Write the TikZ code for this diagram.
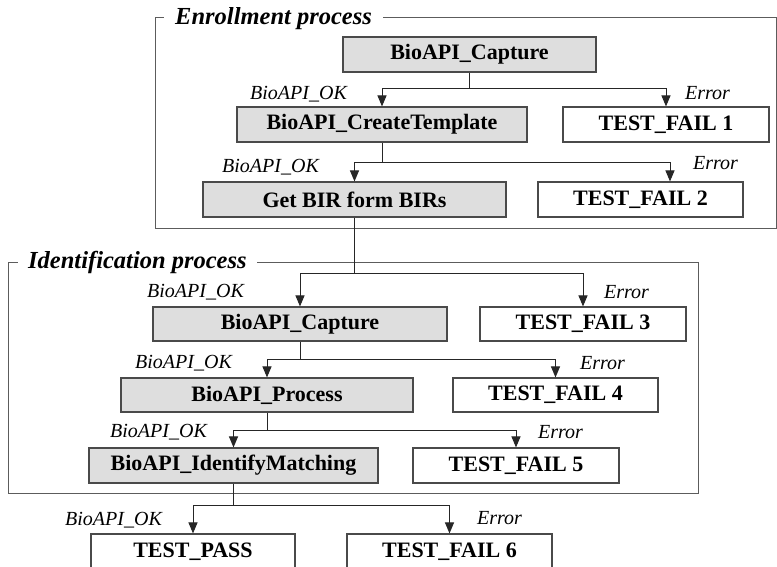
\documentclass[tikz,border=0pt]{standalone}
\usepackage{fontspec}
\setmainfont{Liberation Serif}
\usetikzlibrary{arrows.meta}
\definecolor{boxfill}{HTML}{DEDEDE}
\definecolor{boxline}{HTML}{4A4A4A}
\definecolor{frameline}{HTML}{5C5C5C}
\tikzset{
  gbox/.style={draw=boxline, fill=boxfill, line width=1.1pt, minimum height=35pt, inner sep=0pt,
    font=\fontsize{22}{26}\selectfont\bfseries},
  wbox/.style={gbox, fill=white},
  lbl/.style={anchor=base west, inner sep=0pt, font=\fontsize{20}{24}\selectfont\itshape},
  conn/.style={draw=black!85, line width=1pt},
  arr/.style={conn, -{Triangle[length=11pt,width=9pt]}},
  framebox/.style={draw=frameline, line width=1pt},
  ttl/.style={anchor=base west, fill=white, inner xsep=11pt, inner ysep=2pt,
    font=\fontsize{24.5}{28}\selectfont\bfseries\itshape}
}
\begin{document}
\begin{tikzpicture}[x=1pt, y=-1pt]
\useasboundingbox (0,0) rectangle (777,567);
\clip (0,0) rectangle (777,567);

% frames
\draw[framebox] (155,18) rectangle (776,228);
\node[ttl] (t1) at (164,25) {Enrollment process};
\draw[framebox] (8,262) rectangle (698,493);
\node[ttl, inner xsep=10pt] (t2) at (18,268) {Identification process};

% boxes - enrollment
\node[gbox, minimum width=253pt] (cap1) at (469.5,54.5) {BioAPI\_Capture};
\node[gbox, minimum width=290pt] (ct) at (382,124.5) {BioAPI\_CreateTemplate};
\node[wbox, minimum width=206pt] (tf1) at (666,124.5) {TEST\_FAIL 1};
\node[gbox, minimum width=303pt] (gb) at (354.5,199.5) {Get BIR form BIRs};
\node[wbox, minimum width=205pt] (tf2) at (640.5,199.5) {TEST\_FAIL 2};

% boxes - identification
\node[gbox, minimum width=294pt, minimum height=34pt] (cap2) at (300,324) {BioAPI\_Capture};
\node[wbox, minimum width=206pt, minimum height=34pt] (tf3) at (583,324) {TEST\_FAIL 3};
\node[gbox, minimum width=292pt, minimum height=34pt] (proc) at (267,395) {BioAPI\_Process};
\node[wbox, minimum width=205pt, minimum height=34pt] (tf4) at (555.5,395) {TEST\_FAIL 4};
\node[gbox, minimum width=289pt] (im) at (233.5,465.5) {BioAPI\_IdentifyMatching};
\node[wbox, minimum width=206pt] (tf5) at (516,465.5) {TEST\_FAIL 5};

% final
\node[wbox, minimum width=204pt] (pass) at (193,551.5) {TEST\_PASS};
\node[wbox, minimum width=205pt] (tf6) at (449.5,551.5) {TEST\_FAIL 6};

% junctions
\coordinate (j1) at (469.5,89);
\coordinate (j2) at (382,163);
\coordinate (j3) at (354.5,273);
\coordinate (j4) at (300,359);
\coordinate (j5) at (267,430);
\coordinate (j6) at (233.5,505);

% connectors
\draw[conn] (cap1.south) -- (j1);
\draw[arr] (j1) -| (ct.north);
\draw[arr] (j1) -| (tf1.north);

\draw[conn] (ct.south) -- (j2);
\draw[arr] (j2) -| (gb.north);
\draw[arr] (j2) -| ([xshift=29.5pt]tf2.north);

\draw[conn] (gb.south) -- (j3);
\draw[arr] (j3) -| (cap2.north);
\draw[arr] (j3) -| (tf3.north);

\draw[conn] (cap2.south) -- (j4);
\draw[arr] (j4) -| (proc.north);
\draw[arr] (j4) -| (tf4.north);

\draw[conn] (proc.south) -- (j5);
\draw[arr] (j5) -| (im.north);
\draw[arr] (j5) -| (tf5.north);

\draw[conn] (im.south) -- (j6);
\draw[arr] (j6) -| (pass.north);
\draw[arr] (j6) -| (tf6.north);

% labels
\node[lbl] (ok1) at (250,100) {BioAPI\_OK};
\node[lbl] (er1) at (685,100) {Error};
\node[lbl] (ok2) at (222,173) {BioAPI\_OK};
\node[lbl] (er2) at (693,170) {Error};
\node[lbl] (ok3) at (147,297) {BioAPI\_OK};
\node[lbl] (er3) at (604,298) {Error};
\node[lbl] (ok4) at (135,368) {BioAPI\_OK};
\node[lbl] (er4) at (580,369) {Error};
\node[lbl] (ok5) at (110,437) {BioAPI\_OK};
\node[lbl] (er5) at (538,438) {Error};
\node[lbl] (ok6) at (65,525) {BioAPI\_OK};
\node[lbl] (er6) at (477,524) {Error};
\end{tikzpicture}
\end{document}
